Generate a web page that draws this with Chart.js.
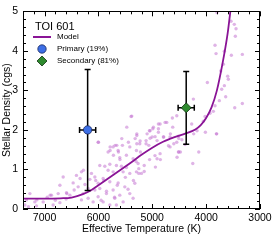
<!DOCTYPE html>
<html><head><meta charset="utf-8">
<script src="https://cdn.jsdelivr.net/npm/chart.js@4/dist/chart.umd.min.js"></script>
<style>html,body{margin:0;padding:0;background:#fff}#wrap{width:274px;height:240px}</style>
</head><body><div id="wrap"><canvas id="c" width="274" height="240"></canvas></div>
<script>
const xTicks = [3000, 4000, 5000, 6000, 7000];
const yTicks = [0, 1, 2, 3, 4, 5];
const xTitle = 'Effective Temperature (K)';
const yTitle = 'Stellar Density (cgs)';
const legendTitle = 'TOI 601';
const modelName = 'Model';

const modelTeff = [7400, 7000, 6700, 6500, 6300, 6150, 6000, 5800, 5600, 5400, 5200, 5000, 4800, 4600, 4400, 4200, 4100, 4000, 3900, 3800, 3700, 3600, 3550, 3500];
const modelRho  = [0.26, 0.26, 0.27, 0.29, 0.37, 0.46, 0.60, 0.79, 0.98, 1.17, 1.37, 1.55, 1.70, 1.81, 1.90, 2.01, 2.12, 2.30, 2.57, 3.00, 3.65, 4.45, 5.00, 5.50];

const sampleTeff = [3477,3445,3458,3835,3816,3662,3532,3328,3680,3729,3588,3600,3977,3711,3637,4237,3755,3835,3866,3469,3328,3928,4052,4020,5380,4627,4545,4762,4886,4886,4990,5040,4620,4268,3804,4948,5040,4794,5287,5318,5226,4515,4391,5115,3800,3538,3662,
 6005,5727,5554,5634,5820,5417,5294,5232,5480,5603,5356,5263,5974,5881,5788,5666,5573,5820,5727,5541,5417,5294,5201,6408,6315,6654,6129,6066,6159,5912,5788,5634,6005,6469,6376,6715,6593,6747,6871,6530,7025,7180,7150,6840,6715,6315,6191,6098,6005,5912,5851,5727,5696,5603,5541,5417,5356,5510,5324,6066,6191,6284,5974,5788,5666,7335,7365,7272,
 5393,5473,5287,5053,4979,4855,4731,4886,5115,5287,5443,5566,5659,5783,5999,5628,5721,4670,4515,4855,4545,4670,
 4248,4137,4014,3810,4478,4540,4911,5250,5250,4942,
 5096,5003,5065,5220,4911,4787,4664,4508,4231,4169,4508,
 5690,5783,6278,6340,6896,6586,7143,7298,
 5900,5850,5650,5500,5450,5350,5150,5700,5950,6050,6250,6450,6600,6800,6950,5600,5480,5300,5150,4950,4850,4700,4600,4450,5050];
const sampleRho = [4.67,4.56,4.37,4.14,3.93,3.99,3.89,3.91,3.66,3.49,3.28,3.36,3.20,3.03,2.84,2.78,2.74,2.61,2.47,2.56,2.67,2.42,2.22,2.34,2.35,2.30,2.36,2.19,2.15,2.03,2.03,1.98,2.07,2.15,1.90,1.83,1.79,1.82,1.86,1.78,1.72,1.84,1.63,1.65,4.97,4.75,3.12,
 1.69,1.57,1.61,1.48,1.44,1.57,1.48,1.65,1.36,1.30,1.27,1.15,1.10,1.08,1.13,1.10,1.08,0.98,0.94,0.94,0.90,0.94,0.90,0.85,0.94,0.81,0.90,0.81,0.75,0.77,0.69,0.66,0.65,0.66,0.56,0.60,0.41,0.39,0.35,0.35,0.18,0.18,0.08,0.10,0.16,0.23,0.27,0.18,0.31,0.18,0.39,0.48,0.27,0.35,0.18,0.39,0.27,0.56,0.65,0.48,0.52,0.39,0.52,0.10,0.10,0.23,0.10,0.39,
 2.34,2.07,1.90,1.98,2.07,2.15,2.19,1.94,1.73,1.65,1.69,1.78,1.61,1.57,1.69,1.44,1.36,1.57,1.44,1.40,1.69,1.82,
 1.15,1.44,1.94,1.90,1.44,1.31,1.27,0.90,1.02,1.06,
 1.90,1.82,1.61,1.44,1.73,1.82,1.90,1.78,1.90,1.98,1.44,
 1.61,1.48,0.98,0.77,0.35,0.39,0.23,0.06,
 0.72,0.45,0.60,0.80,0.50,0.72,0.95,0.30,0.22,0.72,0.62,0.48,0.25,0.22,0.30,1.25,1.05,1.20,1.10,1.35,1.25,1.60,1.65,1.75,1.25];

const compNames = ['Primary (19%)', 'Secondary (81%)'];
const compTeff = [6200, 4370];
const compTeffErr = [150, 150];
const compRho = [2.00, 2.56];
const compRhoErr = [1.53, 0.92];

const FONT = '"Liberation Sans", Arial, Helvetica, sans-serif';
const MODEL_COLOR = '#8a1496';
const PRIM_COLOR = '#3d6fe6';
const SEC_COLOR = '#2e8a2e';

const deco = {
  id: 'deco',
  beforeDatasetDraw(chart, args) {
    if (args.index !== 0) return;
    const ctx = chart.ctx, xs = chart.scales.x, ys = chart.scales.y;
    ctx.save();
    ctx.strokeStyle = '#000';
    ctx.lineWidth = 1.5;
    for (let i = 0; i < compTeff.length; i++) {
      const px = xs.getPixelForValue(compTeff[i]);
      const py = ys.getPixelForValue(compRho[i]);
      const y1 = ys.getPixelForValue(compRho[i] - compRhoErr[i]);
      const y2 = ys.getPixelForValue(compRho[i] + compRhoErr[i]);
      const x1 = xs.getPixelForValue(compTeff[i] - compTeffErr[i]);
      const x2 = xs.getPixelForValue(compTeff[i] + compTeffErr[i]);
      ctx.beginPath();
      ctx.moveTo(px, y1); ctx.lineTo(px, y2);
      ctx.moveTo(px - 3, y1); ctx.lineTo(px + 3, y1);
      ctx.moveTo(px - 3, y2); ctx.lineTo(px + 3, y2);
      ctx.moveTo(x1, py); ctx.lineTo(x2, py);
      ctx.moveTo(x1, py - 3); ctx.lineTo(x1, py + 3);
      ctx.moveTo(x2, py - 3); ctx.lineTo(x2, py + 3);
      ctx.stroke();
    }
    ctx.restore();
  },
  afterDraw(chart) {
    const ctx = chart.ctx, a = chart.chartArea, xs = chart.scales.x, ys = chart.scales.y;
    ctx.save();
    ctx.strokeStyle = '#000';
    ctx.lineWidth = 1;
    ctx.strokeRect(Math.round(a.left) + 0.5, Math.round(a.top) + 0.5, Math.round(a.right - a.left) - 1, Math.round(a.bottom - a.top) - 1);
    ctx.beginPath();
    for (let v = 3000; v <= 7400; v += 200) {
      const x = Math.round(xs.getPixelForValue(v)) + 0.5;
      const L = (v % 1000 === 0) ? 5 : 3;
      ctx.moveTo(x, a.bottom); ctx.lineTo(x, a.bottom - L);
      ctx.moveTo(x, a.top); ctx.lineTo(x, a.top + L);
    }
    for (let k = 0; k <= 25; k++) {
      const v = k * 0.2;
      const y = Math.round(ys.getPixelForValue(v)) + 0.5;
      const L = (k % 5 === 0) ? 5 : 3;
      ctx.moveTo(a.left, y); ctx.lineTo(a.left + L, y);
      ctx.moveTo(a.right, y); ctx.lineTo(a.right - L, y);
    }
    ctx.stroke();

    // legend
    ctx.fillStyle = '#000';
    ctx.textBaseline = 'alphabetic';
    ctx.textAlign = 'left';
    ctx.font = '11px ' + FONT;
    ctx.fillText(legendTitle, 35, 29.5);
    ctx.font = '8px ' + FONT;
    ctx.textBaseline = 'middle';
    ctx.strokeStyle = MODEL_COLOR; ctx.lineWidth = 2;
    ctx.beginPath(); ctx.moveTo(33, 37); ctx.lineTo(51, 37); ctx.stroke();
    ctx.fillText(modelName, 57, 37);
    ctx.fillStyle = PRIM_COLOR; ctx.strokeStyle = '#1a2a60'; ctx.lineWidth = 0.8;
    ctx.beginPath(); ctx.arc(42, 49, 4.2, 0, Math.PI * 2); ctx.fill(); ctx.stroke();
    ctx.fillStyle = '#000';
    ctx.fillText(compNames[0], 57, 49);
    ctx.fillStyle = SEC_COLOR; ctx.strokeStyle = '#103010';
    ctx.beginPath(); ctx.moveTo(37, 61); ctx.lineTo(42, 56); ctx.lineTo(47, 61); ctx.lineTo(42, 66); ctx.closePath(); ctx.fill(); ctx.stroke();
    ctx.fillStyle = '#000';
    ctx.fillText(compNames[1], 57, 61);
    ctx.restore();
  }
};

const tickFont = { family: FONT, size: 10.5 };
new Chart(document.getElementById('c'), {
  type: 'scatter',
  data: {
    datasets: [
      { label: compNames[0], data: [{ x: compTeff[0], y: compRho[0] }], pointStyle: 'circle', pointRadius: 4.2, backgroundColor: PRIM_COLOR, borderColor: '#1a2a60', borderWidth: 0.8, order: 1 },
      { label: compNames[1], data: [{ x: compTeff[1], y: compRho[1] }], pointStyle: 'rectRot', pointRadius: 5, backgroundColor: SEC_COLOR, borderColor: '#103010', borderWidth: 0.8, order: 0 },
      { label: modelName, type: 'line', data: modelTeff.map((t, i) => ({ x: t, y: modelRho[i] })), borderColor: MODEL_COLOR, borderWidth: 1.8, pointRadius: 0, cubicInterpolationMode: 'monotone', fill: false, order: 2 },
      { label: 'samples', data: sampleTeff.map((t, i) => ({ x: t, y: sampleRho[i] })), pointRadius: 1.7, backgroundColor: 'rgba(196,118,210,0.55)', borderWidth: 0, order: 3 }
    ]
  },
  options: {
    responsive: false,
    animation: false,
    devicePixelRatio: 1,
    layout: { padding: { top: 10, right: 14, left: 0, bottom: 0 } },
    plugins: { legend: { display: false }, tooltip: { enabled: false } },
    scales: {
      x: {
        type: 'linear', position: 'bottom', min: 3000, max: 7400, reverse: true,
        afterBuildTicks: s => { s.ticks = xTicks.map(v => ({ value: v })); },
        afterFit: s => { s.height = 31; },
        grid: { display: false, drawTicks: false },
        border: { display: false },
        ticks: { font: tickFont, color: '#000', padding: 3, maxRotation: 0, autoSkip: false, callback: v => String(v) },
        title: { display: true, text: xTitle, font: tickFont, color: '#000', padding: { top: 0, bottom: 5 } }
      },
      y: {
        type: 'linear', min: 0, max: 5,
        afterBuildTicks: s => { s.ticks = yTicks.map(v => ({ value: v })); },
        afterFit: s => { s.width = 23; },
        grid: { display: false, drawTicks: false },
        border: { display: false },
        ticks: { font: tickFont, color: '#000', padding: 5, autoSkip: false, callback: v => String(v) },
        title: { display: true, text: yTitle, font: tickFont, color: '#000', padding: { top: 1, bottom: 0 } }
      }
    }
  },
  plugins: [deco]
});
</script>
</body></html>
